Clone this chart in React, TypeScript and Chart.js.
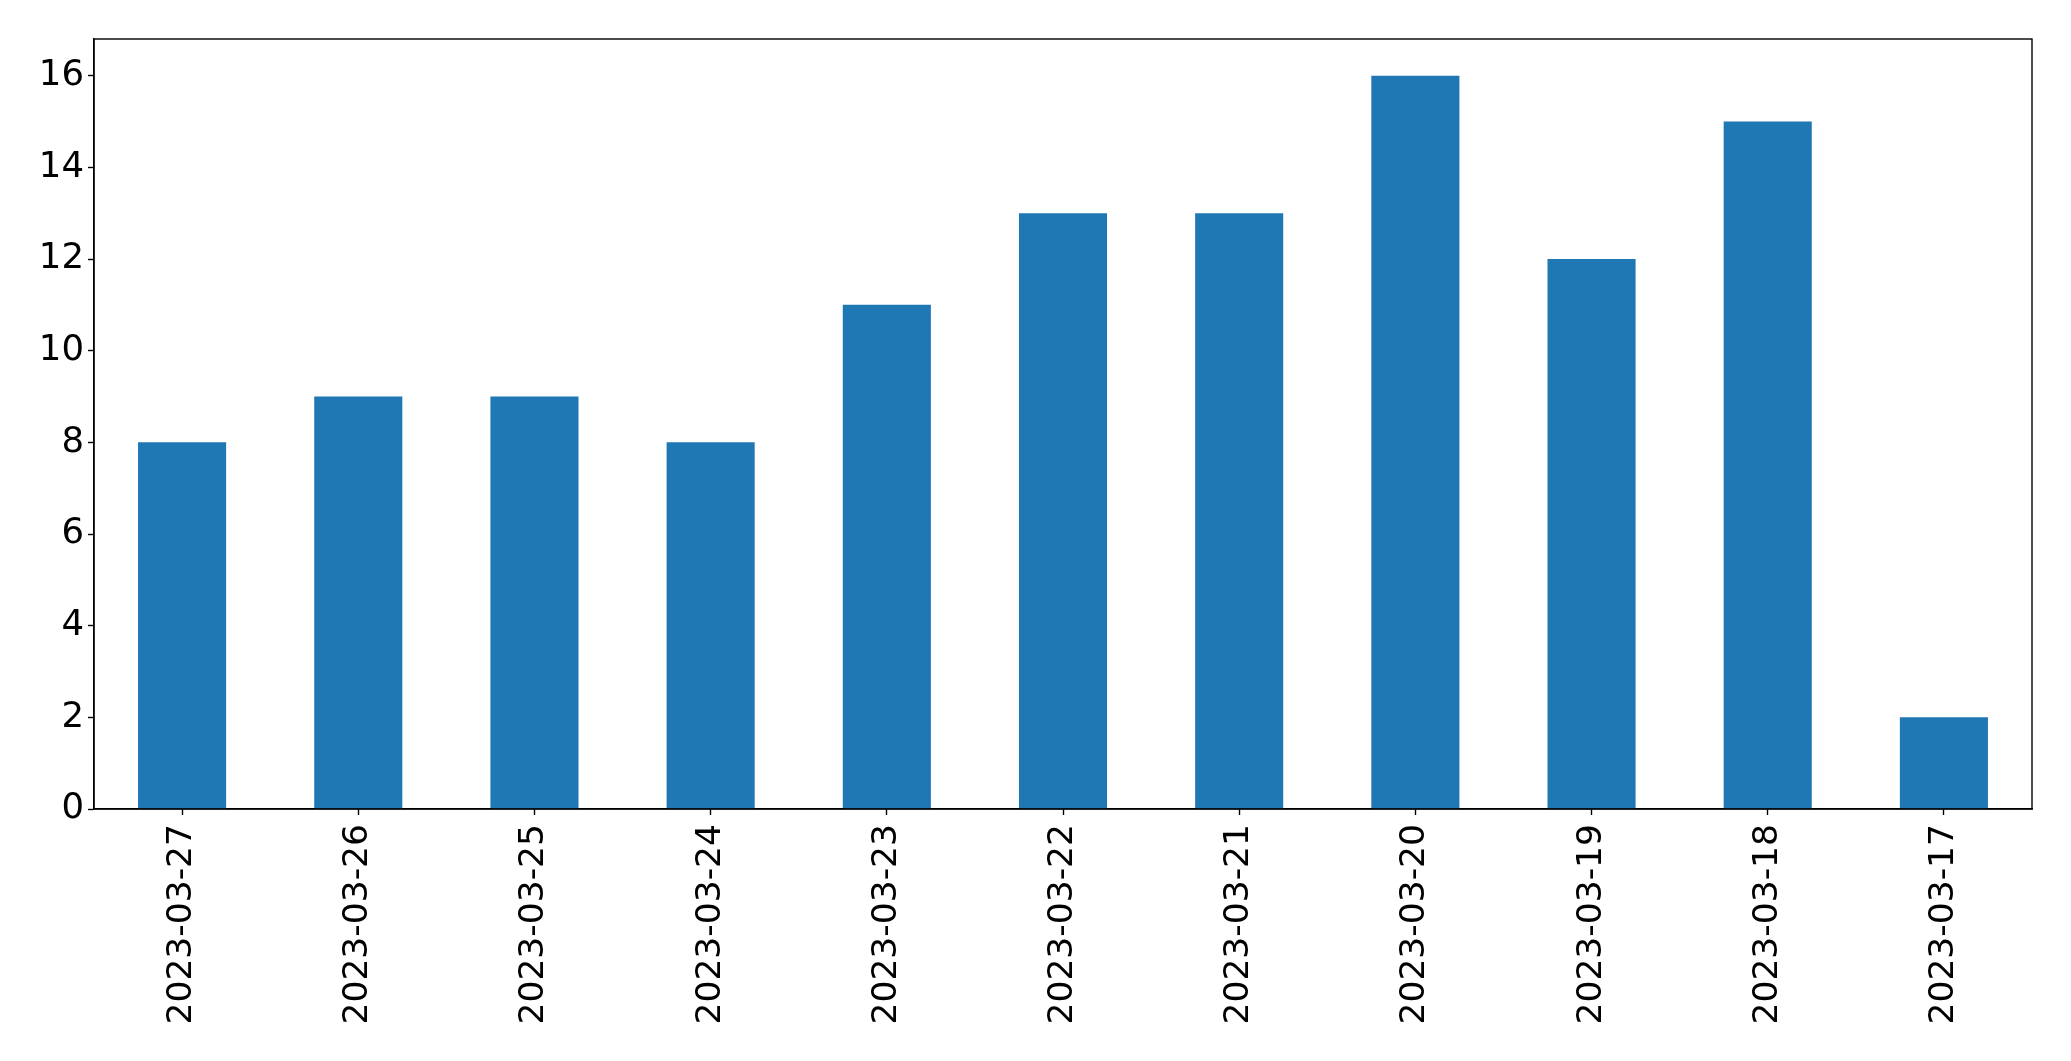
import React, { useEffect, useRef } from "react";
import { Chart, registerables } from "chart.js";

Chart.register(...registerables);

const categories = [
  "2023-03-27", "2023-03-26", "2023-03-25", "2023-03-24", "2023-03-23", "2023-03-22",
  "2023-03-21", "2023-03-20", "2023-03-19", "2023-03-18", "2023-03-17",
];
const values = [8, 9, 9, 8, 11, 13, 13, 16, 12, 15, 2];
const yTicks = [0, 2, 4, 6, 8, 10, 12, 14, 16];
const yMax = 16.8;

const framePlugin = {
  id: "frame",
  afterDraw(chart: any) {
    const { ctx, chartArea } = chart;
    ctx.save();
    ctx.strokeStyle = "#000";
    ctx.lineWidth = 1.4;
    ctx.strokeRect(chartArea.left, chartArea.top, chartArea.right - chartArea.left, chartArea.bottom - chartArea.top);
    ctx.restore();
  },
};

export default function App() {
  const ref = useRef<HTMLCanvasElement | null>(null);
  useEffect(() => {
    if (!ref.current) return;
    const chart = new Chart(ref.current, {
      type: "bar",
      data: {
        labels: categories,
        datasets: [
          {
            data: values,
            backgroundColor: "#1f77b4",
            categoryPercentage: 1,
            barPercentage: 0.5,
          },
        ],
      },
      options: {
        animation: false,
        responsive: false,
        maintainAspectRatio: false,
        layout: { padding: { top: 39, right: 39, left: 0, bottom: 0 } },
        plugins: { legend: { display: false }, tooltip: { enabled: false } },
        scales: {
          x: {
            offset: true,
            grid: { drawOnChartArea: false, tickLength: 6, tickColor: "#000", tickWidth: 1.4, offset: false },
            border: { color: "#000", width: 1.4 },
            ticks: { color: "#000", font: { family: "DejaVu Sans", size: 34.5 }, minRotation: 90, maxRotation: 90, padding: 9, autoSkip: false },
            afterFit: (s: any) => { s.height = 252; },
          },
          y: {
            min: 0,
            max: yMax,
            grid: { drawOnChartArea: false, tickLength: 6, tickColor: "#000", tickWidth: 1.4 },
            border: { color: "#000", width: 1.4 },
            ticks: { color: "#000", font: { family: "DejaVu Sans", size: 35.5 }, padding: 4 },
            afterBuildTicks: (s: any) => { s.ticks = yTicks.map((v) => ({ value: v })); },
            afterFit: (s: any) => { s.width = 94; },
          },
        },
      },
      plugins: [framePlugin],
    });
    return () => chart.destroy();
  }, []);
  return (
    <div style={{ position: "absolute", left: 0, top: 0, width: 2071, height: 1061, background: "#fff" }}>
      <canvas ref={ref} width={2071} height={1061} style={{ width: 2071, height: 1061 }} />
    </div>
  );
}
